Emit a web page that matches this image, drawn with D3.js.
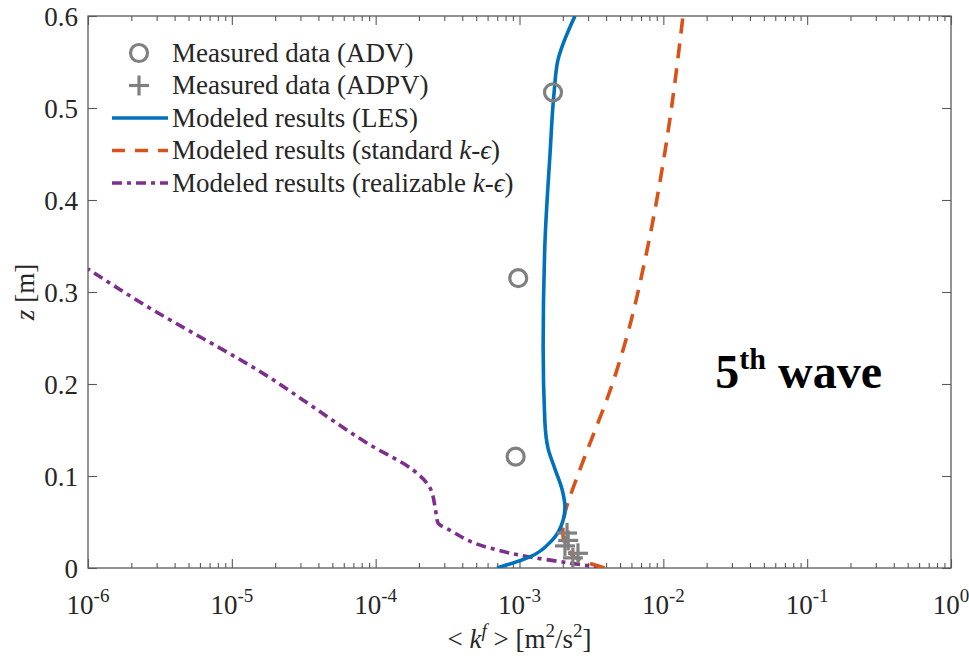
<!DOCTYPE html>
<html>
<head>
<meta charset="utf-8">
<script src="https://cdn.jsdelivr.net/npm/d3@7"></script>
<style>
  body { margin: 0; background: #fff; }
  svg { font-family: "Liberation Serif", "Times New Roman", serif; }
</style>
</head>
<body>
<div id="chart"></div>
<script>
// ---- data ----
var xTickExp = [-6, -5, -4, -3, -2, -1, 0];
var yTicks = [0, 0.1, 0.2, 0.3, 0.4, 0.5, 0.6];

// measured, ADV (circles)
var advK = [1.71e-3, 0.98e-3, 0.94e-3];
var advZ = [0.517, 0.315, 0.121];

// measured, ADPV (plus)
var adpvK = [2.14e-3, 2.18e-3, 2.07e-3, 2.55e-3, 2.35e-3];
var adpvZ = [0.038, 0.030, 0.024, 0.016, 0.011];

// LES
var lesZ = [0, 0.012, 0.030, 0.052, 0.066, 0.085, 0.107, 0.13, 0.16, 0.24, 0.35, 0.45, 0.517, 0.552, 0.6];
var lesK = [6.98e-4, 1.18e-3, 1.68e-3, 2.01e-3, 2.07e-3, 1.98e-3, 1.77e-3, 1.58e-3, 1.50e-3, 1.46e-3, 1.50e-3, 1.63e-3, 1.74e-3, 1.85e-3, 2.43e-3];

// standard k-eps
var stdZ = [0, 0.014, 0.038, 0.06, 0.077, 0.107, 0.147, 0.19, 0.248, 0.335, 0.454, 0.6];
var stdK = [3.9e-3, 2.32e-3, 2.0e-3, 2.07e-3, 2.24e-3, 2.63e-3, 3.3e-3, 4.2e-3, 5.5e-3, 7.46e-3, 1.03e-2, 1.37e-2];

// realizable k-eps
var relZ = [0, 0.0065, 0.012, 0.0217, 0.041, 0.049, 0.066, 0.087, 0.1065, 0.134, 0.183, 0.201, 0.291, 0.325];
var relK = [3.87e-3, 2.0e-3, 1.18e-3, 6.2e-4, 3.29e-4, 2.71e-4, 2.59e-4, 2.39e-4, 1.82e-4, 9.1e-5, 3.1e-5, 2.1e-5, 2.19e-6, 1e-6];

var legendLabels = [
  "Measured data (ADV)",
  "Measured data (ADPV)",
  "Modeled results (LES)",
  "Modeled results (standard ",
  "Modeled results (realizable "
];

var blue = "#0072BD", orange = "#D95319", purple = "#7E2F8E", grey = "#808080";

// ---- layout ----
var W = 969, H = 659;
var margin = { left: 88, right: 18, top: 16, bottom: 91 };
var width = W - margin.left - margin.right;
var height = H - margin.top - margin.bottom;

var svg = d3.select("#chart").append("svg")
  .attr("width", W)
  .attr("height", H);

var g = svg.append("g")
  .attr("transform", "translate(" + margin.left + "," + margin.top + ")");

var x = d3.scaleLog().domain([1e-6, 1]).range([0, width]);
var y = d3.scaleLinear().domain([0, 0.6]).range([height, 0]);

g.append("clipPath").attr("id", "clip")
  .append("rect").attr("width", width).attr("height", height);

// minor ticks for the log axis
var minor = [];
for (var e = -6; e < 0; e++) {
  for (var m = 2; m <= 9; m++) minor.push(m * Math.pow(10, e));
}
var majors = xTickExp.map(function(p) { return Math.pow(10, p); });

var axisColor = "#5a5a5a";

function styleAxis(sel) {
  sel.select(".domain").remove();
  sel.selectAll("line").attr("stroke", axisColor).attr("stroke-width", 1.1);
  sel.selectAll("text").remove();
}

// bottom / top
g.append("g").attr("transform", "translate(0," + height + ")")
  .call(d3.axisBottom(x).tickValues(majors).tickSize(-9)).call(styleAxis);
g.append("g").attr("transform", "translate(0," + height + ")")
  .call(d3.axisBottom(x).tickValues(minor).tickSize(-5)).call(styleAxis);
g.append("g")
  .call(d3.axisTop(x).tickValues(majors).tickSize(-9)).call(styleAxis);
g.append("g")
  .call(d3.axisTop(x).tickValues(minor).tickSize(-5)).call(styleAxis);
// left / right
g.append("g")
  .call(d3.axisLeft(y).tickValues(yTicks).tickSize(-9)).call(styleAxis);
g.append("g").attr("transform", "translate(" + width + ",0)")
  .call(d3.axisRight(y).tickValues(yTicks).tickSize(-9)).call(styleAxis);

// box
g.append("rect")
  .attr("width", width).attr("height", height)
  .attr("fill", "none").attr("stroke", axisColor).attr("stroke-width", 1.3);

// x tick labels 10^n
var xl = g.append("g").selectAll("text").data(xTickExp).enter().append("text")
  .attr("x", function(d) { return x(Math.pow(10, d)); })
  .attr("y", height + 46)
  .attr("text-anchor", "middle")
  .attr("font-size", 27)
  .attr("fill", "#262626");
xl.append("tspan").text("10");
xl.append("tspan").attr("dy", -12).attr("font-size", 19)
  .text(function(d) { return d === 0 ? "0" : "-" + Math.abs(d); });

// y tick labels
g.append("g").selectAll("text").data(yTicks).enter().append("text")
  .attr("x", -10)
  .attr("y", function(d) { return y(d); })
  .attr("dy", "0.38em")
  .attr("text-anchor", "end")
  .attr("font-size", 27)
  .attr("fill", "#262626")
  .text(function(d) { return d === 0 ? "0" : d3.format(".1f")(d); });

// axis titles
var xt = g.append("text")
  .attr("x", x(1e-3))
  .attr("y", height + 80)
  .attr("text-anchor", "middle")
  .attr("font-size", 27)
  .attr("fill", "#262626");
xt.append("tspan").text("< ");
xt.append("tspan").attr("font-style", "italic").text("k");
xt.append("tspan").attr("font-style", "italic").attr("font-size", 19).attr("dy", -11).text("f");
xt.append("tspan").attr("dy", 11).text(" > [m");
xt.append("tspan").attr("font-size", 19).attr("dy", -11).text("2");
xt.append("tspan").attr("dy", 11).text("/s");
xt.append("tspan").attr("font-size", 19).attr("dy", -11).text("2");
xt.append("tspan").attr("dy", 11).text("]");

var yt = g.append("text")
  .attr("transform", "translate(-54," + y(0.3) + ") rotate(-90)")
  .attr("text-anchor", "middle")
  .attr("font-size", 27)
  .attr("fill", "#262626");
yt.append("tspan").attr("font-style", "italic").text("z");
yt.append("tspan").text(" [m]");

// ---- curves ----
var plot = g.append("g").attr("clip-path", "url(#clip)");

function series(ks, zs) {
  return zs.map(function(z, i) { return { k: ks[i], z: z }; })
    .sort(function(a, b) { return a.z - b.z; });
}

var line = d3.line()
  .x(function(d) { return x(d.k); })
  .y(function(d) { return y(d.z); })
  .curve(d3.curveMonotoneY);

plot.append("path").datum(series(relK, relZ))
  .attr("d", line).attr("fill", "none")
  .attr("stroke", purple).attr("stroke-width", 3.6)
  .attr("stroke-dasharray", "10,5,4,5");

plot.append("path").datum(series(stdK, stdZ))
  .attr("d", line).attr("fill", "none")
  .attr("stroke", orange).attr("stroke-width", 3.6)
  .attr("stroke-dasharray", "15,10");

plot.append("path").datum(series(lesK, lesZ))
  .attr("d", line).attr("fill", "none")
  .attr("stroke", blue).attr("stroke-width", 3.6);

// markers
g.append("g").selectAll("circle").data(advK).enter().append("circle")
  .attr("cx", function(d) { return x(d); })
  .attr("cy", function(d, i) { return y(advZ[i]); })
  .attr("r", 8.5)
  .attr("fill", "none").attr("stroke", grey).attr("stroke-width", 3.2);

var plusSize = 10;
var plus = g.append("g").selectAll("g").data(adpvK).enter().append("g")
  .attr("transform", function(d, i) { return "translate(" + x(d) + "," + y(adpvZ[i]) + ")"; });
plus.append("line").attr("x1", -plusSize).attr("x2", plusSize)
  .attr("stroke", grey).attr("stroke-width", 3.2);
plus.append("line").attr("y1", -plusSize).attr("y2", plusSize)
  .attr("stroke", grey).attr("stroke-width", 3.2);

// ---- legend ----
var leg = g.append("g").attr("transform", "translate(24,37)");
var rowH = 32.5;
var rows = leg.selectAll("g").data(legendLabels).enter().append("g")
  .attr("transform", function(d, i) { return "translate(0," + i * rowH + ")"; });

rows.append("text")
  .attr("x", 60)
  .attr("dy", "0.33em")
  .attr("font-size", 27)
  .attr("fill", "#262626")
  .each(function(d, i) {
    var t = d3.select(this);
    t.append("tspan").text(d);
    if (i >= 3) {
      t.append("tspan").attr("font-style", "italic").text("k");
      t.append("tspan").text("-");
      t.append("tspan").attr("font-style", "italic").text("\u03F5");
      t.append("tspan").text(")");
    }
  });

var r0 = d3.select(rows.nodes()[0]);
r0.append("circle").attr("cx", 27).attr("r", 8.5)
  .attr("fill", "none").attr("stroke", grey).attr("stroke-width", 3.2);
var r1 = d3.select(rows.nodes()[1]);
r1.append("line").attr("x1", 27 - plusSize).attr("x2", 27 + plusSize)
  .attr("stroke", grey).attr("stroke-width", 3.2);
r1.append("line").attr("x1", 27).attr("x2", 27).attr("y1", -plusSize).attr("y2", plusSize)
  .attr("stroke", grey).attr("stroke-width", 3.2);
d3.select(rows.nodes()[2]).append("line").attr("x1", 0).attr("x2", 56)
  .attr("stroke", blue).attr("stroke-width", 3.6);
d3.select(rows.nodes()[3]).append("line").attr("x1", 0).attr("x2", 56)
  .attr("stroke", orange).attr("stroke-width", 3.6).attr("stroke-dasharray", "13,10");
d3.select(rows.nodes()[4]).append("line").attr("x1", 0).attr("x2", 56)
  .attr("stroke", purple).attr("stroke-width", 3.6).attr("stroke-dasharray", "10,5,4,5");

// ---- annotation ----
var ann = g.append("text")
  .attr("x", x(2.3e-2))
  .attr("y", y(0.196))
  .attr("font-size", 48)
  .attr("font-weight", "bold")
  .attr("fill", "#000");
ann.append("tspan").text("5");
ann.append("tspan").attr("font-size", 30).attr("dy", -19).text("th");
ann.append("tspan").attr("dy", 19).text(" wave");
</script>
</body>
</html>
